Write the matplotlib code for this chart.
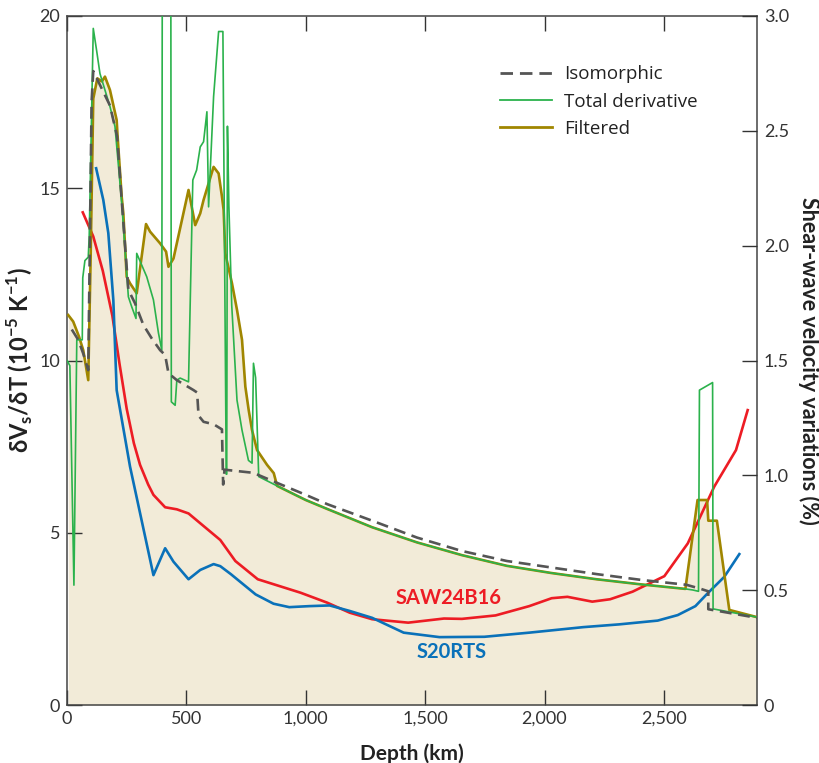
import matplotlib
matplotlib.use('Agg')
import matplotlib.pyplot as plt
from matplotlib.lines import Line2D

# Isomorphic (dashed grey)
iso_depth = [20, 47, 68, 89, 96, 103, 110, 138, 180, 210, 229, 257, 285, 320, 355, 390, 411,
             425, 460, 530, 545, 551, 572, 614, 649, 654, 660, 780, 879, 1000, 1090, 1278,
             1466, 1654, 1842, 2030, 2218, 2406, 2594, 2655, 2686, 2686, 2890]
iso_vals = [10.9, 10.6, 10.2, 9.72, 13.5, 17.5, 18.4, 18.0, 17.4, 16.5, 14.66, 12.05, 11.66,
            11.03, 10.64, 10.3, 10.16, 9.63, 9.43, 9.14, 9.07, 8.4, 8.22, 8.15, 8.0, 6.4, 6.83,
            6.74, 6.45, 6.1, 5.83, 5.35, 4.86, 4.47, 4.18, 3.99, 3.8, 3.63, 3.49, 3.37, 3.3,
            2.78, 2.53]

# lower mantle part shared by total derivative and filtered
lower_depth = [880, 1000, 1090, 1278, 1466, 1654, 1842, 2030, 2218, 2406, 2590]
lower_vals = [6.36, 5.95, 5.69, 5.16, 4.72, 4.35, 4.04, 3.83, 3.65, 3.5, 3.37]

# Total derivative (green)
tot_depth = [0, 12, 29, 41, 64, 66, 75, 89, 93, 110, 124, 138, 180, 201, 230, 257, 271, 289,
             292, 334, 362, 383, 397, 400, 434, 437, 453, 460, 474, 509, 527, 543, 558, 572,
             586, 593, 614, 635, 653, 667, 669, 672, 678, 690, 712, 733, 760, 775, 781, 790,
             803] + lower_depth + [2620, 2645, 2649, 2704, 2706, 2890]
tot_vals = [10.0, 9.85, 3.48, 10.6, 10.6, 12.4, 12.9, 13.0, 13.6, 19.64, 19.0, 18.33, 17.37,
            16.79, 14.5, 11.85, 11.56, 11.22, 13.11, 12.43, 11.76, 10.8, 10.3, 26, 26, 8.8,
            8.7, 9.43, 9.49, 9.38, 15.24, 15.53, 16.2, 16.35, 17.22, 14.46, 17.66, 19.55,
            19.55, 6.7, 6.7, 16.8, 14.5, 11.6, 8.85, 7.98, 7.1, 7.02, 9.92, 9.5,
            6.63] + lower_vals + [3.34, 3.3, 9.14, 9.36, 2.79, 2.55]

# Filtered (olive)
filt_depth = [5, 26, 50, 68, 89, 99, 110, 127, 146, 159, 180, 208, 212, 229, 236, 250, 264,
              292, 331, 348, 390, 415, 425, 446, 509, 537, 558, 572, 614, 635, 649, 656, 663,
              691, 712, 733, 747, 761, 775, 796, 838, 866] + lower_depth + \
             [2641, 2681, 2686, 2722, 2774, 2890]
filt_vals = [11.32, 11.13, 10.7, 10.3, 9.43, 13.0, 17.6, 18.19, 18.1, 18.24, 17.85, 16.98,
             16.5, 14.76, 14.27, 12.43, 12.24, 11.95, 13.96, 13.74, 13.4, 13.16, 12.72, 12.96,
             14.95, 13.93, 14.27, 14.66, 15.62, 15.43, 14.76, 14.37, 13.11, 12.24, 11.47,
             10.6, 9.24, 8.56, 7.98, 7.4, 6.97, 6.73] + lower_vals + \
            [5.95, 5.95, 5.35, 5.35, 2.76, 2.55]

# SAW24B16 (red)
saw_depth = [66, 110, 150, 190, 220, 250, 280, 306, 340, 362, 411, 460, 509, 642, 705, 799,
             978, 1090, 1184, 1278, 1429, 1579, 1654, 1795, 1936, 2030, 2096, 2200, 2275,
             2369, 2502, 2600, 2711, 2802, 2851]
saw_vals = [14.3, 13.6, 12.6, 11.3, 9.9, 8.6, 7.6, 6.97, 6.4, 6.1, 5.74, 5.68, 5.56, 4.79,
            4.18, 3.65, 3.26, 2.97, 2.68, 2.49, 2.39, 2.51, 2.5, 2.6, 2.87, 3.1, 3.14, 3.0,
            3.07, 3.29, 3.74, 4.69, 6.34, 7.4, 8.56]

# S20RTS (blue)
s20_depth = [122, 152, 173, 194, 208, 264, 362, 411, 446, 509, 558, 614, 642, 686, 790, 865,
             931, 1015, 1100, 1184, 1278, 1410, 1560, 1748, 1936, 2162, 2312, 2474, 2558,
             2632, 2683, 2753, 2816]
s20_vals = [15.58, 14.66, 13.7, 11.76, 9.14, 6.92, 3.77, 4.55, 4.16, 3.65, 3.92, 4.09, 4.03,
            3.8, 3.21, 2.94, 2.84, 2.87, 2.89, 2.73, 2.53, 2.1, 1.97, 1.98, 2.1, 2.26, 2.34,
            2.45, 2.61, 2.87, 3.24, 3.72, 4.38]

x_ticks = [0, 500, 1000, 1500, 2000, 2500]
x_labels = ['0', '500', '1,000', '1,500', '2,000', '2,500']
y_ticks = [0, 5, 10, 15, 20]
y2_ticks = [0, 0.5, 1.0, 1.5, 2.0, 2.5, 3.0]
y2_labels = ['0', '0.5', '1.0', '1.5', '2.0', '2.5', '3.0']

plt.rcParams['font.family'] = ['Lato', 'DejaVu Sans']
plt.rcParams['mathtext.fontset'] = 'custom'
plt.rcParams['mathtext.bf'] = 'Lato:bold'
plt.rcParams['mathtext.rm'] = 'Lato'

GREEN = '#2bb24c'
OLIVE = '#a08600'
GREY = '#555555'
RED = '#ed1c24'
BLUE = '#0a71b9'
BEIGE = '#f2ebd8'
INK = '#333333'
DASH = (0, (4.5, 2.5))

fig = plt.figure(figsize=(8.2, 7.63), dpi=100)
ax = fig.add_axes([67 / 820, 58 / 763, 690 / 820, 689 / 763])

ax.fill_between(filt_depth, 0, filt_vals, color=BEIGE, lw=0, zorder=1)
ax.plot(saw_depth, saw_vals, color=RED, lw=1.9, zorder=3)
ax.plot(s20_depth, s20_vals, color=BLUE, lw=1.9, zorder=3)
ax.plot(filt_depth, filt_vals, color=OLIVE, lw=1.9, zorder=4)
ax.plot(tot_depth, tot_vals, color=GREEN, lw=1.2, zorder=5)
ax.plot(iso_depth, iso_vals, color=GREY, lw=1.9, ls=DASH, zorder=6)

ax.set_xlim(0, 2890)
ax.set_ylim(0, 20)
ax.set_xticks(x_ticks)
ax.set_xticklabels(x_labels)
ax.set_yticks(y_ticks)
ax.tick_params(direction='in', length=11, width=1, colors=INK, labelsize=13,
               top=True, pad=4)
ax.tick_params(axis='y', pad=5)
for s in ax.spines.values():
    s.set_color('#444444')
    s.set_linewidth(1.1)

ax2 = ax.twinx()
ax2.set_ylim(0, 3.0)
ax2.set_yticks(y2_ticks)
ax2.set_yticklabels(y2_labels)
ax2.tick_params(direction='in', length=11, width=1, colors=INK, labelsize=13, pad=5)
for s in ax2.spines.values():
    s.set_visible(False)

ax.set_xlabel('Depth (km)', fontsize=15, fontweight='bold', color='#222222', labelpad=12)
ax.set_ylabel(r'δV$_\mathbf{s}$/δT (10$^{\mathbf{-5}}$ K$^{\mathbf{-1}}$)', fontsize=17,
              fontweight='bold', color='#222222')
ax.yaxis.set_label_coords(-0.047, 0.5)
ax2.set_ylabel('Shear-wave velocity variations (%)', fontsize=15.5, fontweight='bold',
               color='#222222', rotation=270, labelpad=22)

ax.text(1600, 3.1, 'SAW24B16', color=RED, fontsize=14.5, fontweight='bold',
        ha='center', va='center', zorder=7)
ax.text(1610, 1.55, 'S20RTS', color=BLUE, fontsize=14.5, fontweight='bold',
        ha='center', va='center', zorder=7)

handles = [Line2D([], [], color=GREY, lw=2, ls=DASH),
           Line2D([], [], color=GREEN, lw=1.3),
           Line2D([], [], color=OLIVE, lw=2)]
leg = ax.legend(handles, ['Isomorphic', 'Total derivative', 'Filtered'],
                loc='upper left', bbox_to_anchor=(0.603, 0.953), frameon=False,
                prop={'family': 'Open Sans', 'size': 13.5}, handlelength=2.8,
                handletextpad=0.6, labelspacing=0.5)
for t in leg.get_texts():
    t.set_color('#222222')

fig.savefig('out.png', dpi=100)
